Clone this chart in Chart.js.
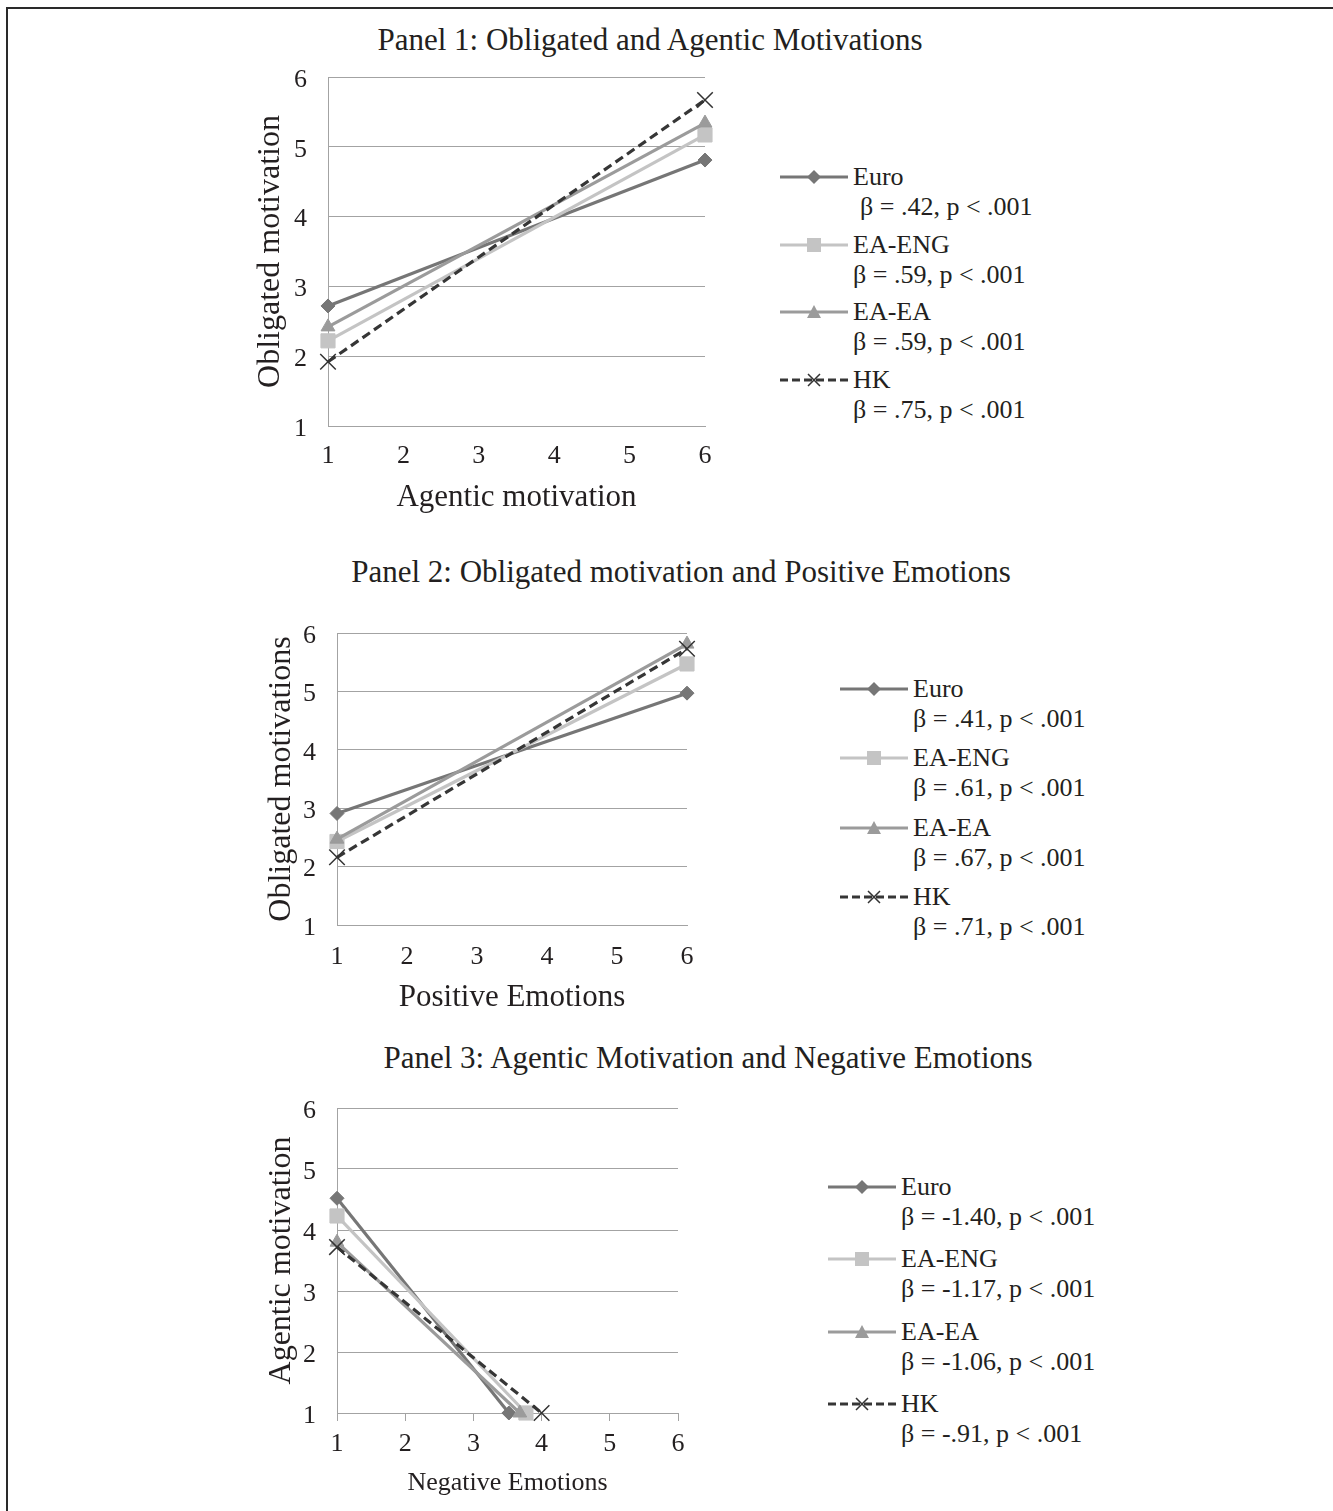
<!DOCTYPE html>
<html>
<head>
<meta charset="utf-8">
<script src="https://cdn.jsdelivr.net/npm/chart.js@4.4.0/dist/chart.umd.min.js"></script>
<style>
body { margin: 0; background: #fff; width: 1333px; height: 1511px; position: relative; overflow: hidden;
       font-family: "Liberation Serif", "Times New Roman", serif; color: #231f20; }
#frame { position: absolute; left: 6px; top: 7px; right: -10px; bottom: -10px;
         border-top: 2px solid #2a2a2a; border-left: 2px solid #2a2a2a; }
.ttl { position: absolute; font-size: 31px; white-space: nowrap; transform: translate(-50%, -50%); }
.cv { position: absolute; }
.lg { position: absolute; font-size: 26px; white-space: nowrap; line-height: 30px; }
.sw { position: absolute; }
</style>
</head>
<body>
<div id="frame"></div>
<div class="ttl" style="left:650px;top:40px">Panel 1: Obligated and Agentic Motivations</div>
<div class="ttl" style="left:681px;top:572px">Panel 2: Obligated motivation and Positive Emotions</div>
<div class="ttl" style="left:708px;top:1058px">Panel 3: Agentic Motivation and Negative Emotions</div>
<canvas id="c1" class="cv" width="500" height="481" style="left:240px;top:40px"></canvas>
<canvas id="c2" class="cv" width="480" height="424" style="left:250px;top:596px"></canvas>
<canvas id="c3" class="cv" width="480" height="432" style="left:250px;top:1071px"></canvas>
<script>
const groups = ['Euro', 'EA-ENG', 'EA-EA', 'HK'];
const axisTicks = [1, 2, 3, 4, 5, 6];

// panel 1: agentic motivation (x) -> obligated motivation (y), at x = 1 and x = 6
const p1Low = [2.72, 2.22, 2.42, 1.92];
const p1High = [4.81, 5.17, 5.34, 5.67];
const p1Beta = ['.42', '.59', '.59', '.75'];

// panel 2: positive emotions (x) -> obligated motivations (y)
const p2Low = [2.91, 2.43, 2.47, 2.16];
const p2High = [4.97, 5.47, 5.81, 5.73];
const p2Beta = ['.41', '.61', '.67', '.71'];

// panel 3: negative emotions (x) -> agentic motivation (y); start at x = 1, end where y hits 1
const p3Start = [4.52, 4.23, 3.80, 3.72];
const p3EndX = [3.52, 3.77, 3.68, 4.00];
const p3Beta = ['-1.40', '-1.17', '-1.06', '-.91'];

const SERIF = '"Liberation Serif", "Times New Roman", serif';
const TXT = '#231f20';
const GRID = '#a3a3a3';
const colors = ['#767676', '#c4c4c4', '#9b9b9b', '#363636'];
const styles = ['rectRot', 'rect', 'triangle', 'crossRot'];
const radii = [7, 10, 8, 11];
const dashes = [[], [], [], [9, 5]];

function makeDatasets(pts) {
    return groups.map((g, i) => ({
        label: g,
        data: pts[i],
        borderColor: colors[i],
        backgroundColor: colors[i],
        borderWidth: 3.2,
        borderDash: dashes[i],
        pointStyle: styles[i],
        pointRadius: radii[i],
        pointBackgroundColor: colors[i],
        pointBorderColor: i === 3 ? '#333' : colors[i],
        pointBorderWidth: i === 3 ? 1.5 : 1,
        clip: false,
        order: 3 - i
    }));
}

function makeChart(id, pts, c) {
    new Chart(document.getElementById(id), {
        type: 'line',
        data: { datasets: makeDatasets(pts) },
        options: {
            responsive: false, animation: false, events: [],
            layout: { padding: { top: c.padTop, right: c.padRight, left: 0, bottom: 0 } },
            plugins: { legend: { display: false }, tooltip: { enabled: false } },
            scales: {
                x: {
                    type: 'linear', min: axisTicks[0], max: axisTicks[axisTicks.length - 1],
                    afterBuildTicks: s => { s.ticks = axisTicks.map(v => ({ value: v })); },
                    afterFit: s => { s.height = c.xH; },
                    grid: { drawOnChartArea: false, drawTicks: c.xMarks, tickLength: 8, color: GRID },
                    border: { color: GRID, width: 1 },
                    ticks: { padding: c.xTickPad, font: { family: SERIF, size: 26 }, color: TXT },
                    title: { display: true, text: c.xTitle, color: TXT,
                             font: { family: SERIF, size: c.xTitleSize }, padding: { top: 0, bottom: c.xTitlePad } }
                },
                y: {
                    type: 'linear', min: axisTicks[0], max: axisTicks[axisTicks.length - 1],
                    afterBuildTicks: s => { s.ticks = axisTicks.map(v => ({ value: v })); },
                    afterFit: s => { s.width = c.yW; },
                    grid: { drawTicks: false, color: GRID, lineWidth: 1 },
                    border: { color: GRID, width: 1 },
                    ticks: { padding: c.yTickPad, labelOffset: 3, font: { family: SERIF, size: 26 }, color: TXT },
                    title: { display: true, text: c.yTitle, color: TXT,
                             font: { family: SERIF, size: 32 }, padding: { top: c.yTitlePad, bottom: 0 } }
                }
            }
        }
    });
}

function markerSvg(i) {
    const col = colors[i];
    const cx = 34, cy = 10;
    let m = '';
    if (i === 0) m = `<polygon points="${cx},${cy - 7} ${cx + 7},${cy} ${cx},${cy + 7} ${cx - 7},${cy}" fill="${col}"/>`;
    if (i === 1) m = `<rect x="${cx - 7}" y="${cy - 7}" width="14" height="14" fill="${col}"/>`;
    if (i === 2) m = `<polygon points="${cx},${cy - 7} ${cx + 7},${cy + 6} ${cx - 7},${cy + 6}" fill="${col}"/>`;
    if (i === 3) m = `<path d="M${cx - 6} ${cy - 6}L${cx + 6} ${cy + 6}M${cx + 6} ${cy - 6}L${cx - 6} ${cy + 6}" stroke="#333" stroke-width="1.5"/>`;
    const dash = dashes[i].length ? ` stroke-dasharray="8 4"` : '';
    return `<svg class="sw" width="68" height="20"><line x1="0" y1="${cy}" x2="68" y2="${cy}" stroke="${col}" stroke-width="3"${dash}/>${m}</svg>`;
}

function buildLegend(betas, left, firstY, step, firstIndent) {
    let html = '';
    groups.forEach((g, i) => {
        const y = firstY + i * step;
        const ind = i === 0 ? firstIndent : 0;
        html += markerSvg(i).replace('class="sw"', `class="sw" style="left:${left}px;top:${y - 10}px"`);
        html += `<div class="lg" style="left:${left + 73}px;top:${y - 15}px">${g}</div>`;
        html += `<div class="lg" style="left:${left + 73 + ind}px;top:${y + 15}px">β = ${betas[i]}, p &lt; .001</div>`;
    });
    document.body.insertAdjacentHTML('beforeend', html);
}

const pts1 = groups.map((g, i) => [{ x: 1, y: p1Low[i] }, { x: 6, y: p1High[i] }]);
const pts2 = groups.map((g, i) => [{ x: 1, y: p2Low[i] }, { x: 6, y: p2High[i] }]);
const pts3 = groups.map((g, i) => [{ x: 1, y: p3Start[i] }, { x: p3EndX[i], y: 1 }]);

// y-axis top padding = half label height + tick padding (~37), so canvases sit 37px above the plot top
makeChart('c1', pts1, { padTop: 37, padRight: 35, xH: 95, yW: 88, xMarks: false, xTickPad: 15,
    xTitle: 'Agentic motivation', xTitleSize: 31, xTitlePad: 5, yTitle: 'Obligated motivation', yTitlePad: 11, yTickPad: 21 });
makeChart('c2', pts2, { padTop: 37, padRight: 43, xH: 95, yW: 87, xMarks: false, xTickPad: 17,
    xTitle: 'Positive Emotions', xTitleSize: 31, xTitlePad: 4, yTitle: 'Obligated motivations', yTitlePad: 12, yTickPad: 21 });
makeChart('c3', pts3, { padTop: 37, padRight: 52, xH: 90, yW: 87, xMarks: true, xTickPad: 8,
    xTitle: 'Negative Emotions', xTitleSize: 26, xTitlePad: 4, yTitle: 'Agentic motivation', yTitlePad: 12, yTickPad: 21 });

buildLegend(p1Beta, 780, 177, 67.7, 7);
buildLegend(p2Beta, 840, 689, 69.3, 0);
buildLegend(p3Beta, 828, 1187, 72.3, 0);
</script>
</body>
</html>
